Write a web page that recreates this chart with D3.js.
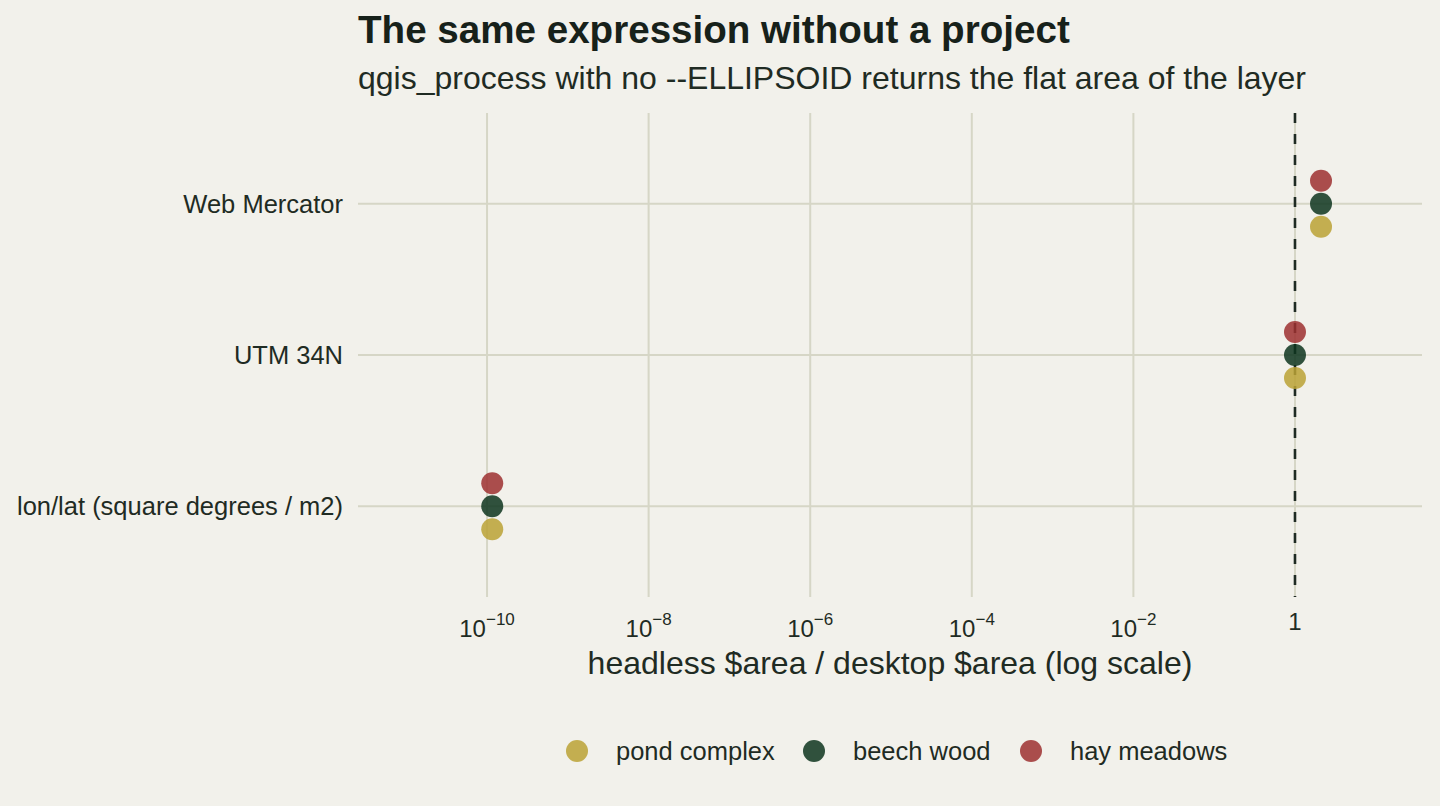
<!DOCTYPE html>
<html>
<head>
<meta charset="utf-8">
<script src="https://cdn.jsdelivr.net/npm/d3@7"></script>
<style>
  html, body { margin: 0; padding: 0; background: #f2f1eb; }
  svg { display: block; font-family: "Liberation Sans", Arial, Helvetica, sans-serif; }
</style>
</head>
<body>
<svg id="chart" width="1440" height="806"></svg>
<script>
// ---- data ----
const crsCategories = ["Web Mercator", "UTM 34N", "lon/lat (square degrees / m2)"];
const seriesNames = ["pond complex", "beech wood", "hay meadows"];
const seriesColors = ["#bba235", "#0e351f", "#9e3030"];
const pondComplex = [2.1, 1.0, 1.16e-10];
const beechWood   = [2.1, 1.0, 1.16e-10];
const hayMeadows  = [2.1, 1.0, 1.16e-10];
const tickExponents = [-10, -8, -6, -4, -2, 0];
const referenceRatio = 1;

const seriesValues = [pondComplex, beechWood, hayMeadows];
const points = [];
seriesNames.forEach((s, si) => {
  crsCategories.forEach((c, ci) => {
    points.push({ series: s, si: si, crs: c, value: seriesValues[si][ci] });
  });
});

// ---- layout ----
const svg = d3.select("#chart");
const W = 1440, H = 806;
const panel = { left: 358, right: 1422, top: 113, bottom: 597 };
const textColor = "#1f2b23";
const gridColor = "#d6d6c6";

svg.append("rect").attr("width", W).attr("height", H).attr("fill", "#f2f1eb");

const x = d3.scaleLog()
  .domain([Math.pow(10, -11.597), Math.pow(10, 1.572)])
  .range([panel.left, panel.right]);

const y = d3.scalePoint()
  .domain(crsCategories)
  .range([panel.top, panel.bottom])
  .padding(0.6);

const dodge = d3.scalePoint()
  .domain(seriesNames.slice().reverse())
  .range([-23, 23]);

// grid
const g = svg.append("g");
g.selectAll("line.vgrid").data(tickExponents).join("line")
  .attr("class", "vgrid")
  .attr("x1", d => x(Math.pow(10, d))).attr("x2", d => x(Math.pow(10, d)))
  .attr("y1", panel.top).attr("y2", panel.bottom)
  .attr("stroke", gridColor).attr("stroke-width", 2);

g.selectAll("line.hgrid").data(crsCategories).join("line")
  .attr("class", "hgrid")
  .attr("x1", panel.left).attr("x2", panel.right)
  .attr("y1", d => y(d)).attr("y2", d => y(d))
  .attr("stroke", gridColor).attr("stroke-width", 2);

// reference dashed line
g.append("line")
  .attr("x1", x(referenceRatio)).attr("x2", x(referenceRatio))
  .attr("y1", panel.top).attr("y2", panel.bottom)
  .attr("stroke", "#1f2b23").attr("stroke-width", 2.6)
  .attr("stroke-dasharray", "10,11");

// points
g.selectAll("circle.pt").data(points).join("circle")
  .attr("class", "pt")
  .attr("cx", d => x(d.value))
  .attr("cy", d => y(d.crs) + dodge(d.series))
  .attr("r", 11)
  .attr("fill", d => seriesColors[d.si])
  .attr("fill-opacity", 0.85);

// y axis labels
svg.append("g").selectAll("text").data(crsCategories).join("text")
  .attr("x", 343).attr("y", d => y(d) + 9)
  .attr("text-anchor", "end")
  .attr("font-size", 25.5)
  .attr("fill", textColor)
  .text(d => d);

// x tick labels
const xt = svg.append("g").selectAll("text").data(tickExponents).join("text")
  .attr("x", d => x(Math.pow(10, d)))
  .attr("y", d => d === 0 ? 630 : 637)
  .attr("text-anchor", "middle")
  .attr("font-size", 24)
  .attr("fill", textColor);
xt.each(function(d) {
  const t = d3.select(this);
  if (d === 0) { t.text("1"); return; }
  t.append("tspan").text("10");
  t.append("tspan").attr("dy", -12).attr("font-size", 17).text("\u2212" + Math.abs(d));
});

// x axis title
svg.append("text")
  .attr("x", (panel.left + panel.right) / 2).attr("y", 674)
  .attr("text-anchor", "middle")
  .attr("font-size", 32)
  .attr("fill", textColor)
  .text("headless $area / desktop $area (log scale)");

// title + subtitle
svg.append("text")
  .attr("x", panel.left).attr("y", 43)
  .attr("font-size", 38.6).attr("font-weight", "bold")
  .attr("fill", "#17211a")
  .text("The same expression without a project");
svg.append("text")
  .attr("x", panel.left).attr("y", 89)
  .attr("font-size", 32)
  .attr("fill", textColor)
  .text("qgis_process with no --ELLIPSOID returns the flat area of the layer");

// legend
const legendX = [577, 814, 1031];
const leg = svg.append("g").selectAll("g").data(seriesNames).join("g")
  .attr("transform", (d, i) => `translate(${legendX[i]},751)`);
leg.append("circle").attr("r", 11)
  .attr("fill", (d, i) => seriesColors[i]).attr("fill-opacity", 0.85);
leg.append("text").attr("x", 39).attr("y", 9)
  .attr("font-size", 25.5).attr("fill", textColor)
  .text(d => d);
</script>
</body>
</html>
